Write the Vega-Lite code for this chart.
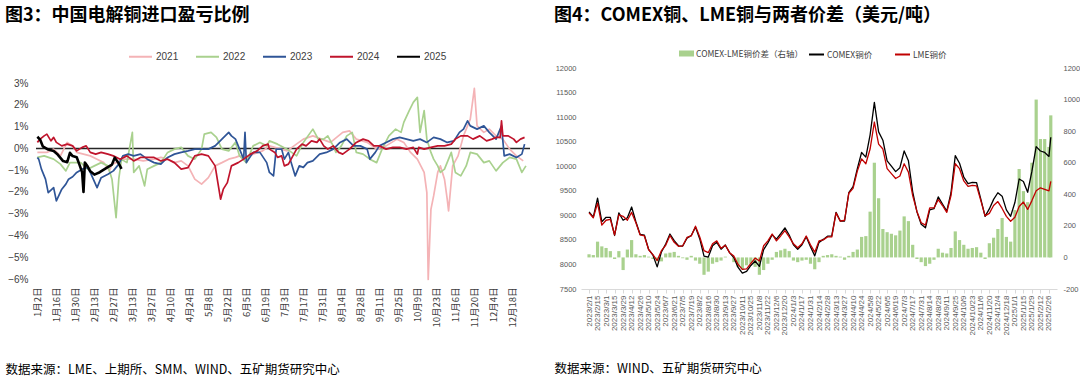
{
"$schema":"https://vega.github.io/schema/vega-lite/v6.json",
"background":"white",
"padding":{"left":5,"top":7,"right":0,"bottom":0},
"config":{"font":"Noto Sans CJK SC","view":{"stroke":null},"axis":{"grid":false,"domain":false,"ticks":false,"labelColor":"#404040","titleColor":"#000000","labelFont":"Liberation Sans"},"legend":{"padding":0,"labelColor":"#404040"},"title":{"color":"#000000","font":"Noto Sans CJK SC","fontWeight":"bold","fontSize":18,"anchor":"start","frame":"bounds","baseline":"top"},"concat":{"spacing":23}},
"resolve":{"scale":{"color":"independent","fill":"independent","stroke":"independent"},"legend":{"color":"independent","fill":"independent","stroke":"independent"}},
"hconcat":[
{"title":{"text":"图3：中国电解铜进口盈亏比例","offset":19},
"width":494,"height":211,
"data":{"values":[
{"s":"2021","d":"2023/01/02","v":-0.18},{"s":"2021","d":"2023/01/09","v":-0.18},{"s":"2021","d":"2023/01/14","v":-0.03},{"s":"2021","d":"2023/01/19","v":-0.34},{"s":"2021","d":"2023/01/24","v":0.28},{"s":"2021","d":"2023/01/28","v":0.12},{"s":"2021","d":"2023/01/31","v":-0.18},{"s":"2021","d":"2023/02/05","v":-0.26},{"s":"2021","d":"2023/02/10","v":-0.34},{"s":"2021","d":"2023/02/15","v":-0.49},{"s":"2021","d":"2023/02/20","v":-0.65},{"s":"2021","d":"2023/02/24","v":-1.03},{"s":"2021","d":"2023/02/26","v":-0.72},{"s":"2021","d":"2023/03/01","v":-0.65},{"s":"2021","d":"2023/03/06","v":-0.49},{"s":"2021","d":"2023/03/14","v":-0.49},{"s":"2021","d":"2023/03/21","v":-0.57},{"s":"2021","d":"2023/03/29","v":-0.49},{"s":"2021","d":"2023/04/03","v":-0.41},{"s":"2021","d":"2023/04/08","v":-0.49},{"s":"2021","d":"2023/04/13","v":-0.65},{"s":"2021","d":"2023/04/18","v":-0.57},{"s":"2021","d":"2023/04/23","v":-0.8},{"s":"2021","d":"2023/04/28","v":-1.41},{"s":"2021","d":"2023/05/03","v":-1.64},{"s":"2021","d":"2023/05/08","v":-1.34},{"s":"2021","d":"2023/05/13","v":-0.8},{"s":"2021","d":"2023/05/18","v":-0.65},{"s":"2021","d":"2023/05/23","v":-0.49},{"s":"2021","d":"2023/05/28","v":-0.41},{"s":"2021","d":"2023/05/31","v":-0.34},{"s":"2021","d":"2023/06/05","v":-0.41},{"s":"2021","d":"2023/06/10","v":-0.26},{"s":"2021","d":"2023/06/17","v":-0.11},{"s":"2021","d":"2023/06/22","v":0.12},{"s":"2021","d":"2023/07/05","v":-0.11},{"s":"2021","d":"2023/07/17","v":0.43},{"s":"2021","d":"2023/07/24","v":0.58},{"s":"2021","d":"2023/08/06","v":0.28},{"s":"2021","d":"2023/08/15","v":0.74},{"s":"2021","d":"2023/08/20","v":0.81},{"s":"2021","d":"2023/08/25","v":0.43},{"s":"2021","d":"2023/09/02","v":0.28},{"s":"2021","d":"2023/09/09","v":-0.03},{"s":"2021","d":"2023/09/16","v":0.12},{"s":"2021","d":"2023/09/24","v":0.43},{"s":"2021","d":"2023/09/29","v":0.28},{"s":"2021","d":"2023/10/04","v":-0.18},{"s":"2021","d":"2023/10/09","v":-0.49},{"s":"2021","d":"2023/10/14","v":-1.1},{"s":"2021","d":"2023/10/16","v":-2.03},{"s":"2021","d":"2023/10/17","v":-6.02},{"s":"2021","d":"2023/10/19","v":-2.8},{"s":"2021","d":"2023/10/21","v":-2.18},{"s":"2021","d":"2023/10/24","v":-1.1},{"s":"2021","d":"2023/10/26","v":-0.8},{"s":"2021","d":"2023/10/29","v":-1.41},{"s":"2021","d":"2023/10/31","v":-2.33},{"s":"2021","d":"2023/11/01","v":-2.87},{"s":"2021","d":"2023/11/04","v":-0.8},{"s":"2021","d":"2023/11/08","v":-0.34},{"s":"2021","d":"2023/11/12","v":0.58},{"s":"2021","d":"2023/11/17","v":1.35},{"s":"2021","d":"2023/11/20","v":2.76},{"s":"2021","d":"2023/11/22","v":1.04},{"s":"2021","d":"2023/11/27","v":0.74},{"s":"2021","d":"2023/12/01","v":0.89},{"s":"2021","d":"2023/12/06","v":0.58},{"s":"2021","d":"2023/12/11","v":0.43},{"s":"2021","d":"2023/12/16","v":-0.03},{"s":"2021","d":"2023/12/21","v":-0.34},{"s":"2021","d":"2023/12/26","v":-0.57},
{"s":"2022","d":"2023/01/02","v":-0.41},{"s":"2022","d":"2023/01/07","v":-0.34},{"s":"2022","d":"2023/01/14","v":-0.49},{"s":"2022","d":"2023/01/19","v":-0.72},{"s":"2022","d":"2023/01/23","v":-1.03},{"s":"2022","d":"2023/01/26","v":-0.65},{"s":"2022","d":"2023/02/03","v":-0.65},{"s":"2022","d":"2023/02/08","v":-0.95},{"s":"2022","d":"2023/02/13","v":-0.8},{"s":"2022","d":"2023/02/18","v":-0.65},{"s":"2022","d":"2023/02/23","v":-0.8},{"s":"2022","d":"2023/02/26","v":-1.41},{"s":"2022","d":"2023/03/01","v":-3.18},{"s":"2022","d":"2023/03/03","v":-1.4},{"s":"2022","d":"2023/03/05","v":-0.5},{"s":"2022","d":"2023/03/09","v":-0.65},{"s":"2022","d":"2023/03/13","v":0.74},{"s":"2022","d":"2023/03/14","v":-1.1},{"s":"2022","d":"2023/03/18","v":-0.8},{"s":"2022","d":"2023/03/22","v":-1.72},{"s":"2022","d":"2023/03/24","v":-0.95},{"s":"2022","d":"2023/03/29","v":-0.8},{"s":"2022","d":"2023/04/03","v":-0.65},{"s":"2022","d":"2023/04/08","v":-0.18},{"s":"2022","d":"2023/04/13","v":-0.03},{"s":"2022","d":"2023/04/18","v":0.05},{"s":"2022","d":"2023/04/23","v":-0.34},{"s":"2022","d":"2023/04/28","v":-0.49},{"s":"2022","d":"2023/05/03","v":-0.03},{"s":"2022","d":"2023/05/05","v":0.66},{"s":"2022","d":"2023/05/10","v":0.74},{"s":"2022","d":"2023/05/14","v":0.51},{"s":"2022","d":"2023/05/18","v":-0.03},{"s":"2022","d":"2023/05/23","v":-0.11},{"s":"2022","d":"2023/05/28","v":0.28},{"s":"2022","d":"2023/05/31","v":-0.34},{"s":"2022","d":"2023/06/05","v":-0.65},{"s":"2022","d":"2023/06/10","v":0.12},{"s":"2022","d":"2023/06/15","v":0.28},{"s":"2022","d":"2023/06/20","v":0.12},{"s":"2022","d":"2023/06/22","v":0.35},{"s":"2022","d":"2023/06/28","v":0.2},{"s":"2022","d":"2023/07/05","v":-0.03},{"s":"2022","d":"2023/07/12","v":-0.34},{"s":"2022","d":"2023/07/17","v":0.28},{"s":"2022","d":"2023/07/24","v":0.89},{"s":"2022","d":"2023/07/28","v":0.43},{"s":"2022","d":"2023/08/01","v":0.43},{"s":"2022","d":"2023/08/04","v":0.58},{"s":"2022","d":"2023/08/08","v":0.12},{"s":"2022","d":"2023/08/10","v":-0.18},{"s":"2022","d":"2023/08/14","v":0.12},{"s":"2022","d":"2023/08/18","v":0.58},{"s":"2022","d":"2023/08/22","v":0.74},{"s":"2022","d":"2023/08/25","v":-0.18},{"s":"2022","d":"2023/08/30","v":-0.26},{"s":"2022","d":"2023/09/04","v":-0.49},{"s":"2022","d":"2023/09/09","v":-0.65},{"s":"2022","d":"2023/09/13","v":-0.03},{"s":"2022","d":"2023/09/18","v":0.58},{"s":"2022","d":"2023/09/23","v":0.89},{"s":"2022","d":"2023/09/27","v":0.74},{"s":"2022","d":"2023/09/29","v":1.2},{"s":"2022","d":"2023/10/03","v":1.74},{"s":"2022","d":"2023/10/06","v":2.12},{"s":"2022","d":"2023/10/09","v":2.35},{"s":"2022","d":"2023/10/11","v":0.74},{"s":"2022","d":"2023/10/14","v":1.74},{"s":"2022","d":"2023/10/16","v":0.43},{"s":"2022","d":"2023/10/19","v":-0.18},{"s":"2022","d":"2023/10/21","v":-0.49},{"s":"2022","d":"2023/10/24","v":-0.8},{"s":"2022","d":"2023/10/26","v":-1.1},{"s":"2022","d":"2023/10/29","v":-0.95},{"s":"2022","d":"2023/11/03","v":-0.18},{"s":"2022","d":"2023/11/06","v":-1.1},{"s":"2022","d":"2023/11/10","v":-1.26},{"s":"2022","d":"2023/11/14","v":-0.8},{"s":"2022","d":"2023/11/17","v":-0.18},{"s":"2022","d":"2023/11/22","v":-0.26},{"s":"2022","d":"2023/11/27","v":-0.65},{"s":"2022","d":"2023/12/01","v":-0.57},{"s":"2022","d":"2023/12/06","v":-1.03},{"s":"2022","d":"2023/12/11","v":-0.65},{"s":"2022","d":"2023/12/16","v":-0.41},{"s":"2022","d":"2023/12/21","v":-0.49},{"s":"2022","d":"2023/12/25","v":-1.1},{"s":"2022","d":"2023/12/28","v":-0.8},
{"s":"2023","d":"2023/01/02","v":-0.41},{"s":"2023","d":"2023/01/03","v":-0.49},{"s":"2023","d":"2023/01/05","v":-0.95},{"s":"2023","d":"2023/01/08","v":-1.41},{"s":"2023","d":"2023/01/10","v":-2.03},{"s":"2023","d":"2023/01/14","v":-1.8},{"s":"2023","d":"2023/01/16","v":-2.41},{"s":"2023","d":"2023/01/20","v":-1.87},{"s":"2023","d":"2023/01/23","v":-1.64},{"s":"2023","d":"2023/01/25","v":-1.41},{"s":"2023","d":"2023/01/28","v":-1.3},{"s":"2023","d":"2023/01/31","v":-1.1},{"s":"2023","d":"2023/02/04","v":-0.95},{"s":"2023","d":"2023/02/08","v":-0.87},{"s":"2023","d":"2023/02/10","v":-1.1},{"s":"2023","d":"2023/02/15","v":-1.8},{"s":"2023","d":"2023/02/18","v":-1.34},{"s":"2023","d":"2023/02/23","v":-1.18},{"s":"2023","d":"2023/02/27","v":-1.03},{"s":"2023","d":"2023/03/03","v":-0.72},{"s":"2023","d":"2023/03/06","v":-0.34},{"s":"2023","d":"2023/03/10","v":-0.26},{"s":"2023","d":"2023/03/14","v":-0.34},{"s":"2023","d":"2023/03/19","v":-0.26},{"s":"2023","d":"2023/03/24","v":-0.49},{"s":"2023","d":"2023/03/29","v":-0.65},{"s":"2023","d":"2023/04/03","v":-0.72},{"s":"2023","d":"2023/04/08","v":-0.41},{"s":"2023","d":"2023/04/13","v":-0.26},{"s":"2023","d":"2023/04/18","v":-0.18},{"s":"2023","d":"2023/04/23","v":-0.11},{"s":"2023","d":"2023/04/28","v":-0.03},{"s":"2023","d":"2023/05/03","v":-0.03},{"s":"2023","d":"2023/05/08","v":-0.03},{"s":"2023","d":"2023/05/13","v":0.12},{"s":"2023","d":"2023/05/18","v":0.43},{"s":"2023","d":"2023/05/23","v":0.74},{"s":"2023","d":"2023/05/25","v":0.58},{"s":"2023","d":"2023/05/28","v":0.43},{"s":"2023","d":"2023/05/31","v":-0.03},{"s":"2023","d":"2023/06/03","v":-0.49},{"s":"2023","d":"2023/06/04","v":0.74},{"s":"2023","d":"2023/06/05","v":-0.65},{"s":"2023","d":"2023/06/10","v":-0.18},{"s":"2023","d":"2023/06/15","v":-0.18},{"s":"2023","d":"2023/06/20","v":-0.65},{"s":"2023","d":"2023/06/22","v":-1.1},{"s":"2023","d":"2023/06/25","v":-1.26},{"s":"2023","d":"2023/06/27","v":-0.03},{"s":"2023","d":"2023/07/01","v":-0.03},{"s":"2023","d":"2023/07/03","v":-0.49},{"s":"2023","d":"2023/07/06","v":-0.18},{"s":"2023","d":"2023/07/08","v":-0.65},{"s":"2023","d":"2023/07/11","v":-1.26},{"s":"2023","d":"2023/07/14","v":-0.8},{"s":"2023","d":"2023/07/17","v":-0.87},{"s":"2023","d":"2023/07/20","v":-0.65},{"s":"2023","d":"2023/07/24","v":-0.57},{"s":"2023","d":"2023/07/29","v":-0.26},{"s":"2023","d":"2023/08/03","v":-0.18},{"s":"2023","d":"2023/08/08","v":-0.03},{"s":"2023","d":"2023/08/13","v":0.28},{"s":"2023","d":"2023/08/18","v":0.43},{"s":"2023","d":"2023/08/23","v":0.12},{"s":"2023","d":"2023/08/28","v":0.12},{"s":"2023","d":"2023/09/02","v":-0.03},{"s":"2023","d":"2023/09/04","v":-0.49},{"s":"2023","d":"2023/09/08","v":-0.18},{"s":"2023","d":"2023/09/11","v":0.12},{"s":"2023","d":"2023/09/16","v":0.28},{"s":"2023","d":"2023/09/21","v":0.43},{"s":"2023","d":"2023/09/26","v":0.51},{"s":"2023","d":"2023/10/01","v":0.43},{"s":"2023","d":"2023/10/06","v":0.35},{"s":"2023","d":"2023/10/11","v":0.43},{"s":"2023","d":"2023/10/16","v":0.28},{"s":"2023","d":"2023/10/21","v":0.51},{"s":"2023","d":"2023/10/26","v":0.43},{"s":"2023","d":"2023/10/31","v":0.28},{"s":"2023","d":"2023/11/05","v":0.35},{"s":"2023","d":"2023/11/09","v":0.74},{"s":"2023","d":"2023/11/12","v":0.89},{"s":"2023","d":"2023/11/15","v":1.27},{"s":"2023","d":"2023/11/17","v":1.04},{"s":"2023","d":"2023/11/22","v":0.89},{"s":"2023","d":"2023/11/27","v":1.04},{"s":"2023","d":"2023/12/01","v":0.74},{"s":"2023","d":"2023/12/06","v":0.43},{"s":"2023","d":"2023/12/10","v":1.04},{"s":"2023","d":"2023/12/12","v":-0.34},{"s":"2023","d":"2023/12/16","v":-0.26},{"s":"2023","d":"2023/12/21","v":-0.41},{"s":"2023","d":"2023/12/25","v":-0.26},{"s":"2023","d":"2023/12/27","v":0.2},
{"s":"2024","d":"2023/01/02","v":0.28},{"s":"2024","d":"2023/01/04","v":0.43},{"s":"2024","d":"2023/01/07","v":0.58},{"s":"2024","d":"2023/01/09","v":0.66},{"s":"2024","d":"2023/01/12","v":0.35},{"s":"2024","d":"2023/01/14","v":0.51},{"s":"2024","d":"2023/01/16","v":0.28},{"s":"2024","d":"2023/01/20","v":0.12},{"s":"2024","d":"2023/01/24","v":0.2},{"s":"2024","d":"2023/01/28","v":0.12},{"s":"2024","d":"2023/01/31","v":-0.11},{"s":"2024","d":"2023/02/04","v":0.05},{"s":"2024","d":"2023/02/07","v":0.12},{"s":"2024","d":"2023/02/10","v":-0.18},{"s":"2024","d":"2023/02/14","v":-0.26},{"s":"2024","d":"2023/02/18","v":-0.18},{"s":"2024","d":"2023/02/23","v":-0.26},{"s":"2024","d":"2023/02/27","v":-0.34},{"s":"2024","d":"2023/03/04","v":-0.49},{"s":"2024","d":"2023/03/09","v":-0.34},{"s":"2024","d":"2023/03/14","v":-0.57},{"s":"2024","d":"2023/03/19","v":-0.41},{"s":"2024","d":"2023/03/24","v":-0.41},{"s":"2024","d":"2023/03/29","v":-0.41},{"s":"2024","d":"2023/04/03","v":-0.57},{"s":"2024","d":"2023/04/08","v":-0.49},{"s":"2024","d":"2023/04/13","v":-0.65},{"s":"2024","d":"2023/04/18","v":-0.95},{"s":"2024","d":"2023/04/23","v":-0.88},{"s":"2024","d":"2023/04/28","v":-0.34},{"s":"2024","d":"2023/05/03","v":-0.26},{"s":"2024","d":"2023/05/08","v":-0.34},{"s":"2024","d":"2023/05/13","v":-0.8},{"s":"2024","d":"2023/05/15","v":-1.57},{"s":"2024","d":"2023/05/17","v":-2.33},{"s":"2024","d":"2023/05/19","v":-1.87},{"s":"2024","d":"2023/05/22","v":-1.57},{"s":"2024","d":"2023/05/25","v":-0.8},{"s":"2024","d":"2023/05/30","v":-0.65},{"s":"2024","d":"2023/06/03","v":-0.49},{"s":"2024","d":"2023/06/08","v":-0.26},{"s":"2024","d":"2023/06/13","v":-0.11},{"s":"2024","d":"2023/06/17","v":0.12},{"s":"2024","d":"2023/06/21","v":0.2},{"s":"2024","d":"2023/06/22","v":-0.03},{"s":"2024","d":"2023/06/26","v":-0.18},{"s":"2024","d":"2023/06/28","v":-0.41},{"s":"2024","d":"2023/07/01","v":-0.34},{"s":"2024","d":"2023/07/03","v":-0.8},{"s":"2024","d":"2023/07/06","v":-0.72},{"s":"2024","d":"2023/07/08","v":-0.49},{"s":"2024","d":"2023/07/12","v":-0.03},{"s":"2024","d":"2023/07/16","v":0.2},{"s":"2024","d":"2023/07/19","v":0.12},{"s":"2024","d":"2023/07/23","v":0.35},{"s":"2024","d":"2023/07/27","v":0.28},{"s":"2024","d":"2023/07/29","v":0.43},{"s":"2024","d":"2023/08/01","v":0.12},{"s":"2024","d":"2023/08/04","v":-0.03},{"s":"2024","d":"2023/08/08","v":0.12},{"s":"2024","d":"2023/08/12","v":-0.18},{"s":"2024","d":"2023/08/15","v":-0.26},{"s":"2024","d":"2023/08/20","v":-0.03},{"s":"2024","d":"2023/08/25","v":0.28},{"s":"2024","d":"2023/08/30","v":0.43},{"s":"2024","d":"2023/09/03","v":0.35},{"s":"2024","d":"2023/09/07","v":0.12},{"s":"2024","d":"2023/09/11","v":0.12},{"s":"2024","d":"2023/09/16","v":-0.03},{"s":"2024","d":"2023/09/21","v":0.05},{"s":"2024","d":"2023/09/26","v":0.05},{"s":"2024","d":"2023/10/01","v":-0.03},{"s":"2024","d":"2023/10/06","v":0.05},{"s":"2024","d":"2023/10/09","v":-0.26},{"s":"2024","d":"2023/10/10","v":0.05},{"s":"2024","d":"2023/10/14","v":-0.03},{"s":"2024","d":"2023/10/19","v":0.05},{"s":"2024","d":"2023/10/24","v":0.12},{"s":"2024","d":"2023/10/29","v":0.12},{"s":"2024","d":"2023/11/03","v":0.2},{"s":"2024","d":"2023/11/06","v":0.43},{"s":"2024","d":"2023/11/10","v":0.58},{"s":"2024","d":"2023/11/15","v":0.58},{"s":"2024","d":"2023/11/19","v":0.43},{"s":"2024","d":"2023/11/24","v":0.58},{"s":"2024","d":"2023/11/29","v":0.35},{"s":"2024","d":"2023/12/03","v":0.43},{"s":"2024","d":"2023/12/06","v":0.51},{"s":"2024","d":"2023/12/09","v":0.51},{"s":"2024","d":"2023/12/10","v":1.27},{"s":"2024","d":"2023/12/11","v":0.58},{"s":"2024","d":"2023/12/15","v":0.58},{"s":"2024","d":"2023/12/19","v":0.43},{"s":"2024","d":"2023/12/21","v":0.28},{"s":"2024","d":"2023/12/24","v":0.43},{"s":"2024","d":"2023/12/27","v":0.51},
{"s":"2025","d":"2023/01/02","v":0.54},{"s":"2025","d":"2023/01/04","v":0.41},{"s":"2025","d":"2023/01/06","v":0.1},{"s":"2025","d":"2023/01/10","v":-0.05},{"s":"2025","d":"2023/01/14","v":-0.12},{"s":"2025","d":"2023/01/17","v":-0.28},{"s":"2025","d":"2023/01/21","v":-0.58},{"s":"2025","d":"2023/01/24","v":-0.63},{"s":"2025","d":"2023/01/26","v":-0.2},{"s":"2025","d":"2023/01/28","v":-0.35},{"s":"2025","d":"2023/01/31","v":-0.4},{"s":"2025","d":"2023/02/02","v":-0.74},{"s":"2025","d":"2023/02/04","v":-1.1},{"s":"2025","d":"2023/02/05","v":-2.0},{"s":"2025","d":"2023/02/06","v":-0.65},{"s":"2025","d":"2023/02/08","v":-0.82},{"s":"2025","d":"2023/02/10","v":-1.05},{"s":"2025","d":"2023/02/13","v":-1.2},{"s":"2025","d":"2023/02/17","v":-1.09},{"s":"2025","d":"2023/02/22","v":-0.89},{"s":"2025","d":"2023/02/26","v":-0.74},{"s":"2025","d":"2023/02/28","v":-0.42},{"s":"2025","d":"2023/03/03","v":-0.69},{"s":"2025","d":"2023/03/05","v":-0.94}
]},
"encoding":{
"x":{"field":"d","type":"temporal","scale":{"domain":[{"year":2023,"month":1,"date":1},{"year":2023,"month":12,"date":31}]},
"axis":{"values":[{"year":2023,"month":1,"date":2},{"year":2023,"month":1,"date":16},{"year":2023,"month":1,"date":30},{"year":2023,"month":2,"date":13},{"year":2023,"month":2,"date":27},{"year":2023,"month":3,"date":13},{"year":2023,"month":3,"date":27},{"year":2023,"month":4,"date":10},{"year":2023,"month":4,"date":24},{"year":2023,"month":5,"date":8},{"year":2023,"month":5,"date":22},{"year":2023,"month":6,"date":5},{"year":2023,"month":6,"date":19},{"year":2023,"month":7,"date":3},{"year":2023,"month":7,"date":17},{"year":2023,"month":7,"date":31},{"year":2023,"month":8,"date":14},{"year":2023,"month":8,"date":28},{"year":2023,"month":9,"date":11},{"year":2023,"month":9,"date":25},{"year":2023,"month":10,"date":9},{"year":2023,"month":10,"date":23},{"year":2023,"month":11,"date":6},{"year":2023,"month":11,"date":20},{"year":2023,"month":12,"date":4},{"year":2023,"month":12,"date":18}],
"format":"%-m月%-d日","labelAngle":-90,"labelAlign":"right","labelBaseline":"middle","labelPadding":8,"labelFont":"Noto Sans CJK SC","labelFontSize":9.5,"labelFlush":false,"labelOverlap":false,
"title":"数据来源：LME、上期所、SMM、WIND、五矿期货研究中心","titleAnchor":"start","titleAlign":"left","titleX":-31,"titleY":90,"titleBaseline":"middle","titleFont":"Noto Sans CJK SC","titleFontSize":12.5,"titleFontWeight":"normal"}},
"y":{"field":"v","type":"quantitative","scale":{"domain":[-6,3.7],"nice":false,"zero":false},
"axis":{"values":[-6,-5,-4,-3,-2,-1,0,1,2,3],"labelExpr":"format(datum.value,'d')+'%'","labelFontSize":10,"labelPadding":8,"title":null,"minExtent":31,"maxExtent":31}},
"color":{"field":"s","type":"nominal","scale":{"domain":["2021","2022","2023","2024","2025"],"range":["#F4B3B6","#A9D18E","#2F5597","#C0142C","#000000"]},
"legend":{"orient":"none","legendX":92,"legendY":-24,"direction":"horizontal","title":null,"symbolType":"stroke","symbolSize":529,"symbolStrokeWidth":2,"labelFont":"Liberation Sans","labelFontSize":10,"labelOffset":3,"columnPadding":13}}
},
"layer":[
{"data":{"values":[{"z":0}]},"mark":{"type":"rule","color":"#262626","strokeWidth":1.5},"encoding":{"x":null,"color":null,"y":{"field":"z","type":"quantitative"}}},
{"transform":[{"filter":"datum.s != '2025'"}],"mark":{"type":"line","strokeWidth":1.7,"strokeJoin":"round"}},
{"transform":[{"filter":"datum.s == '2025'"}],"mark":{"type":"line","strokeWidth":2.6,"strokeJoin":"round"}}
]
},
{"title":{"text":"图4：COMEX铜、LME铜与两者价差（美元/吨）","offset":21},
"width":476,"height":221,
"data":{"values":[
{"d":"2023/02/01","lme":9050,"comex":9070,"sp":20},{"d":"2023/02/08","lme":8950,"comex":8965,"sp":15},{"d":"2023/02/15","lme":9250,"comex":9350,"sp":100},{"d":"2023/02/22","lme":8800,"comex":8870,"sp":70},{"d":"2023/03/01","lme":8900,"comex":8960,"sp":60},{"d":"2023/03/08","lme":8920,"comex":8960,"sp":40},{"d":"2023/03/15","lme":8600,"comex":8590,"sp":-10},{"d":"2023/03/22","lme":9010,"comex":9050,"sp":40},{"d":"2023/03/29","lme":8980,"comex":8900,"sp":-80},{"d":"2023/04/05","lme":8900,"comex":8950,"sp":50},{"d":"2023/04/12","lme":9060,"comex":9170,"sp":110},{"d":"2023/04/19","lme":8850,"comex":8870,"sp":20},{"d":"2023/04/26","lme":8600,"comex":8610,"sp":10},{"d":"2023/05/03","lme":8580,"comex":8595,"sp":15},{"d":"2023/05/10","lme":8300,"comex":8305,"sp":5},{"d":"2023/05/17","lme":8200,"comex":8190,"sp":-10},{"d":"2023/05/24","lme":8080,"comex":7950,"sp":-25},{"d":"2023/05/31","lme":8280,"comex":8255,"sp":-25},{"d":"2023/06/07","lme":8390,"comex":8415,"sp":25},{"d":"2023/06/14","lme":8590,"comex":8620,"sp":30},{"d":"2023/06/21","lme":8450,"comex":8485,"sp":35},{"d":"2023/06/28","lme":8370,"comex":8380,"sp":10},{"d":"2023/07/05","lme":8380,"comex":8375,"sp":-5},{"d":"2023/07/12","lme":8550,"comex":8535,"sp":-15},{"d":"2023/07/19","lme":8580,"comex":8590,"sp":10},{"d":"2023/07/26","lme":8780,"comex":8760,"sp":-20},{"d":"2023/08/02","lme":8560,"comex":8520,"sp":-40},{"d":"2023/08/09","lme":8280,"comex":8170,"sp":-110},{"d":"2023/08/16","lme":8240,"comex":8150,"sp":-90},{"d":"2023/08/23","lme":8420,"comex":8380,"sp":-40},{"d":"2023/08/30","lme":8480,"comex":8450,"sp":-30},{"d":"2023/09/06","lme":8330,"comex":8310,"sp":-20},{"d":"2023/09/13","lme":8390,"comex":8395,"sp":5},{"d":"2023/09/20","lme":8240,"comex":8240,"sp":0},{"d":"2023/09/27","lme":8170,"comex":8140,"sp":-30},{"d":"2023/10/04","lme":8000,"comex":7940,"sp":-60},{"d":"2023/10/11","lme":7900,"comex":7825,"sp":-75},{"d":"2023/10/18","lme":7910,"comex":7860,"sp":-50},{"d":"2023/10/25","lme":8020,"comex":7980,"sp":-40},{"d":"2023/11/01","lme":8130,"comex":8070,"sp":-60},{"d":"2023/11/08","lme":8070,"comex":7960,"sp":-110},{"d":"2023/11/15","lme":8380,"comex":8300,"sp":-80},{"d":"2023/11/22","lme":8480,"comex":8440,"sp":-40},{"d":"2023/11/29","lme":8620,"comex":8605,"sp":-15},{"d":"2023/12/06","lme":8480,"comex":8515,"sp":35},{"d":"2023/12/13","lme":8580,"comex":8625,"sp":45},{"d":"2023/12/20","lme":8690,"comex":8745,"sp":55},{"d":"2023/12/27","lme":8560,"comex":8600,"sp":40},{"d":"2024/01/03","lme":8420,"comex":8400,"sp":-20},{"d":"2024/01/10","lme":8340,"comex":8310,"sp":-30},{"d":"2024/01/17","lme":8420,"comex":8400,"sp":-20},{"d":"2024/01/24","lme":8580,"comex":8565,"sp":-15},{"d":"2024/01/31","lme":8400,"comex":8360,"sp":-40},{"d":"2024/02/07","lme":8250,"comex":8175,"sp":-75},{"d":"2024/02/14","lme":8480,"comex":8450,"sp":-30},{"d":"2024/02/21","lme":8500,"comex":8510,"sp":10},{"d":"2024/02/28","lme":8560,"comex":8575,"sp":15},{"d":"2024/03/06","lme":8560,"comex":8580,"sp":20},{"d":"2024/03/13","lme":9050,"comex":9060,"sp":10},{"d":"2024/03/20","lme":8880,"comex":8885,"sp":5},{"d":"2024/03/27","lme":8900,"comex":8885,"sp":-15},{"d":"2024/04/03","lme":9450,"comex":9460,"sp":10},{"d":"2024/04/10","lme":9550,"comex":9585,"sp":35},{"d":"2024/04/17","lme":9900,"comex":9950,"sp":50},{"d":"2024/04/24","lme":10150,"comex":10280,"sp":130},{"d":"2024/05/01","lme":10050,"comex":10185,"sp":135},{"d":"2024/05/08","lme":10350,"comex":10640,"sp":290},{"d":"2024/05/15","lme":10900,"comex":11300,"sp":600},{"d":"2024/05/22","lme":10450,"comex":10700,"sp":375},{"d":"2024/05/29","lme":10350,"comex":10530,"sp":180},{"d":"2024/06/05","lme":9950,"comex":10110,"sp":160},{"d":"2024/06/12","lme":9850,"comex":10000,"sp":150},{"d":"2024/06/19","lme":9750,"comex":9890,"sp":140},{"d":"2024/06/26","lme":9800,"comex":9970,"sp":170},{"d":"2024/07/03","lme":10050,"comex":10310,"sp":260},{"d":"2024/07/10","lme":9880,"comex":10110,"sp":230},{"d":"2024/07/17","lme":9400,"comex":9480,"sp":80},{"d":"2024/07/24","lme":9080,"comex":9070,"sp":-10},{"d":"2024/07/31","lme":8850,"comex":8820,"sp":-30},{"d":"2024/08/07","lme":8800,"comex":8745,"sp":-55},{"d":"2024/08/14","lme":9150,"comex":9110,"sp":-40},{"d":"2024/08/21","lme":9150,"comex":9135,"sp":-15},{"d":"2024/08/28","lme":9320,"comex":9375,"sp":55},{"d":"2024/09/04","lme":9200,"comex":9230,"sp":30},{"d":"2024/09/11","lme":9060,"comex":9085,"sp":25},{"d":"2024/09/18","lme":9400,"comex":9460,"sp":60},{"d":"2024/09/25","lme":10050,"comex":10215,"sp":165},{"d":"2024/10/02","lme":9950,"comex":10060,"sp":110},{"d":"2024/10/09","lme":9700,"comex":9780,"sp":80},{"d":"2024/10/16","lme":9590,"comex":9645,"sp":55},{"d":"2024/10/23","lme":9610,"comex":9670,"sp":60},{"d":"2024/10/30","lme":9600,"comex":9665,"sp":65},{"d":"2024/11/06","lme":9300,"comex":9330,"sp":30},{"d":"2024/11/13","lme":8990,"comex":8980,"sp":-10},{"d":"2024/11/20","lme":9040,"comex":9130,"sp":90},{"d":"2024/11/27","lme":9200,"comex":9325,"sp":125},{"d":"2024/12/04","lme":9280,"comex":9460,"sp":180},{"d":"2024/12/11","lme":9140,"comex":9390,"sp":250},{"d":"2024/12/18","lme":8980,"comex":9110,"sp":130},{"d":"2024/12/25","lme":8880,"comex":8980,"sp":100},{"d":"2025/01/01","lme":8960,"comex":9260,"sp":300},{"d":"2025/01/08","lme":9180,"comex":9740,"sp":560},{"d":"2025/01/15","lme":9270,"comex":9690,"sp":420},{"d":"2025/01/22","lme":9120,"comex":9470,"sp":350},{"d":"2025/01/29","lme":9300,"comex":9900,"sp":600},{"d":"2025/02/05","lme":9500,"comex":10400,"sp":1000},{"d":"2025/02/12","lme":9560,"comex":10310,"sp":750},{"d":"2025/02/19","lme":9530,"comex":10280,"sp":750},{"d":"2025/02/26","lme":9500,"comex":10200,"sp":700},{"d":"2025/03/01","lme":9690,"comex":10590,"sp":900}
]},
"encoding":{
"x":{"field":"d","type":"temporal","scale":{"domain":[{"year":2023,"month":1,"date":27},{"year":2025,"month":3,"date":3}]},
"axis":{"values":[{"year":2023,"month":2,"date":1},{"year":2023,"month":2,"date":15},{"year":2023,"month":3,"date":1},{"year":2023,"month":3,"date":15},{"year":2023,"month":3,"date":29},{"year":2023,"month":4,"date":12},{"year":2023,"month":4,"date":26},{"year":2023,"month":5,"date":10},{"year":2023,"month":5,"date":24},{"year":2023,"month":6,"date":7},{"year":2023,"month":6,"date":21},{"year":2023,"month":7,"date":5},{"year":2023,"month":7,"date":19},{"year":2023,"month":8,"date":2},{"year":2023,"month":8,"date":16},{"year":2023,"month":8,"date":30},{"year":2023,"month":9,"date":13},{"year":2023,"month":9,"date":27},{"year":2023,"month":10,"date":11},{"year":2023,"month":10,"date":25},{"year":2023,"month":11,"date":8},{"year":2023,"month":11,"date":22},{"year":2023,"month":12,"date":6},{"year":2023,"month":12,"date":20},{"year":2024,"month":1,"date":3},{"year":2024,"month":1,"date":17},{"year":2024,"month":1,"date":31},{"year":2024,"month":2,"date":14},{"year":2024,"month":2,"date":28},{"year":2024,"month":3,"date":13},{"year":2024,"month":3,"date":27},{"year":2024,"month":4,"date":10},{"year":2024,"month":4,"date":24},{"year":2024,"month":5,"date":8},{"year":2024,"month":5,"date":22},{"year":2024,"month":6,"date":5},{"year":2024,"month":6,"date":19},{"year":2024,"month":7,"date":3},{"year":2024,"month":7,"date":17},{"year":2024,"month":7,"date":31},{"year":2024,"month":8,"date":14},{"year":2024,"month":8,"date":28},{"year":2024,"month":9,"date":11},{"year":2024,"month":9,"date":25},{"year":2024,"month":10,"date":9},{"year":2024,"month":10,"date":23},{"year":2024,"month":11,"date":6},{"year":2024,"month":11,"date":20},{"year":2024,"month":12,"date":4},{"year":2024,"month":12,"date":18},{"year":2025,"month":1,"date":1},{"year":2025,"month":1,"date":15},{"year":2025,"month":1,"date":29},{"year":2025,"month":2,"date":12},{"year":2025,"month":2,"date":26}],
"format":"%Y/%-m/%-d","labelAngle":-90,"labelAlign":"right","labelBaseline":"middle","labelFontSize":8,"labelColor":"#595959","labelPadding":2,"labelFlush":false,"labelOverlap":false,"domain":true,"domainColor":"#D9D9D9","ticks":true,"tickColor":"#D9D9D9","tickSize":4,
"title":"数据来源：WIND、五矿期货研究中心","titleAnchor":"start","titleAlign":"left","titleX":-27,"titleY":79,"titleBaseline":"middle","titleFont":"Noto Sans CJK SC","titleFontSize":12.5,"titleFontWeight":"normal"}}
},
"layer":[
{"mark":{"type":"bar","size":3.2},
"encoding":{
"y":{"field":"sp","type":"quantitative","scale":{"domain":[-200,1200],"nice":false},"axis":{"orient":"right","values":[-200,0,200,400,600,800,1000,1200],"labelExpr":"''+datum.value","labelFontSize":7.5,"labelColor":"#595959","labelPadding":6,"title":null}},
"fill":{"datum":"COMEX-LME铜价差（右轴）","type":"nominal","scale":{"range":["#A9D18E"]},
"legend":{"orient":"none","legendX":98,"legendY":-22,"title":null,"symbolType":"M-1,-0.4L1,-0.4L1,0.4L-1,0.4Z","symbolSize":225,"symbolStrokeWidth":0,"labelFont":"Noto Sans CJK SC","labelFontSize":8.5,"labelOffset":2}}
}},
{"transform":[{"fold":["comex","lme"],"as":["k","p"]}],
"mark":{"type":"line","strokeWidth":1.3,"strokeJoin":"round"},
"encoding":{
"y":{"field":"p","type":"quantitative","scale":{"domain":[7500,12000],"nice":false,"zero":false},"axis":{"values":[7500,8000,8500,9000,9500,10000,10500,11000,11500,12000],"format":"d","labelFontSize":7.5,"labelColor":"#595959","labelPadding":5,"title":null,"minExtent":27,"maxExtent":27}},
"stroke":{"field":"k","type":"nominal","scale":{"domain":["comex","lme"],"range":["#000000","#C00000"]},
"legend":{"orient":"none","legendX":227,"legendY":-22,"direction":"horizontal","title":null,"symbolType":"stroke","symbolSize":225,"symbolStrokeWidth":2,"labelExpr":"datum.value=='comex'?'COMEX铜价':'LME铜价'","labelFont":"Noto Sans CJK SC","labelFontSize":8.5,"labelOffset":2,"columnPadding":18}}
}}
],
"resolve":{"scale":{"y":"independent"}}
}
]
}
